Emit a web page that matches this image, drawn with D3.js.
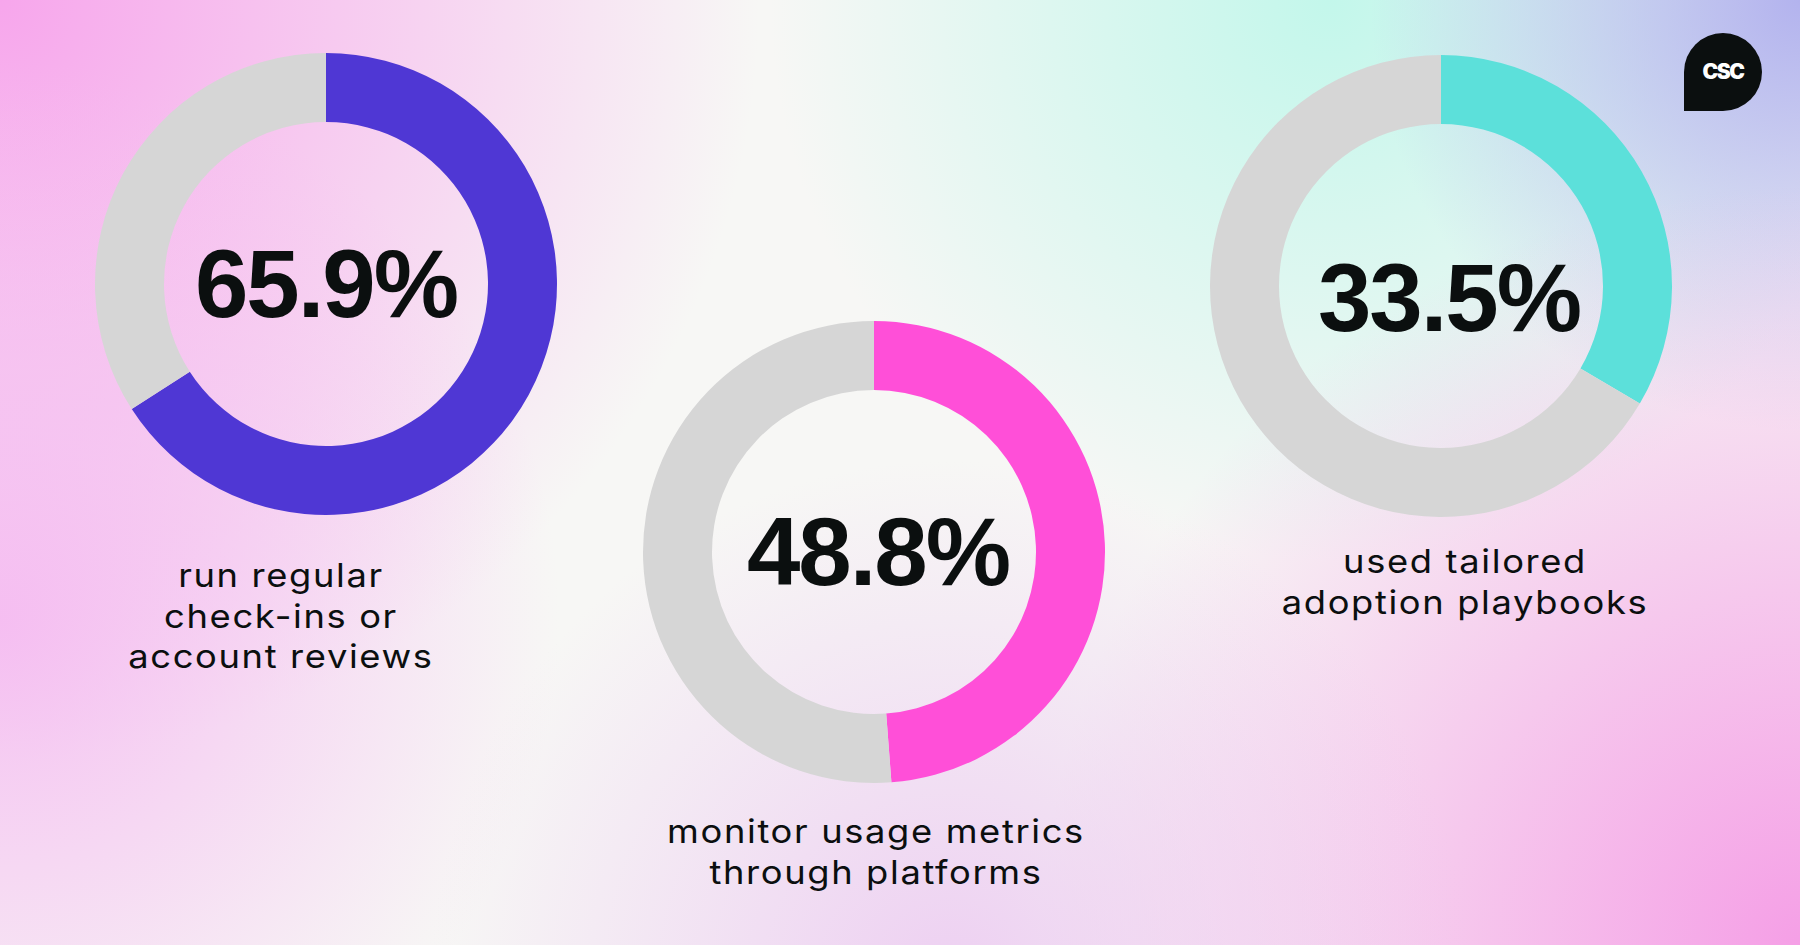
<!DOCTYPE html>
<html>
<head>
<meta charset="utf-8">
<script src="https://cdn.jsdelivr.net/npm/d3@7"></script>
<style>
  html, body { margin: 0; padding: 0; background: #f6f6f4; }
  svg { display: block; }
  .pct { font-family: "Liberation Sans", Arial, sans-serif; font-weight: 700; fill: #0b0f0f; }
  .lbl { font-family: Inter, "Open Sans", sans-serif; font-weight: 400; fill: #0b0f0f; }
</style>
</head>
<body>
<div id="chart"></div>
<script>
'use strict';

// values
var categories = [
  ['run regular', 'check-ins or', 'account reviews'],
  ['monitor usage metrics', 'through platforms'],
  ['used tailored', 'adoption playbooks']
];
var values = [65.9, 48.8, 33.5];
var palette = ['#4f37d4', '#ff4fd8', '#5ce0da'];
var restColor = '#d6d6d6';

// where each donut goes
var layout = [
  {cx: 326, cy: 284, numDx: 0, numDy: 0, lx: 281, ly: 587},
  {cx: 874, cy: 552, numDx: 4, numDy: 0, lx: 876, ly: 843},
  {cx: 1441, cy: 286, numDx: 8, numDy: 12, lx: 1465, ly: 573}
];

var width = 1800, height = 945;
var outerR = 231, innerR = 162;
var lineGap = 40.5;

var svg = d3.select('#chart')
  .append('svg')
  .attr('width', width)
  .attr('height', height);

// background: a few soft colour blobs
var defs = svg.append('defs');
var blobs = [
  {id: 'b1', cx: 0, cy: 0, r: 760, c: '#f7a6ec', o: 1},
  {id: 'b2', cx: 0, cy: 620, r: 560, c: '#f5b9f1', o: 0.9},
  {id: 'b3', cx: 1330, cy: 0, r: 560, c: '#c3f7eb', o: 1},
  {id: 'b4', cx: 1800, cy: 0, r: 430, c: '#b3b3ee', o: 1},
  {id: 'b5', cx: 1800, cy: 945, r: 760, c: '#f59fe6', o: 1},
  {id: 'b6', cx: 950, cy: 980, r: 520, c: '#ebc6f1', o: 0.8}
];
blobs.forEach(function (b) {
  var g = defs.append('radialGradient')
    .attr('id', b.id)
    .attr('gradientUnits', 'userSpaceOnUse')
    .attr('cx', b.cx).attr('cy', b.cy).attr('r', b.r);
  g.append('stop').attr('offset', 0).attr('stop-color', b.c).attr('stop-opacity', b.o);
  g.append('stop').attr('offset', 1).attr('stop-color', b.c).attr('stop-opacity', 0);
});
svg.append('rect').attr('width', width).attr('height', height).attr('fill', '#f7f7f5');
blobs.forEach(function (b) {
  svg.append('rect').attr('width', width).attr('height', height).attr('fill', 'url(#' + b.id + ')');
});

var pie = d3.pie().sort(null).value(function (d) { return d; });
var arc = d3.arc().innerRadius(innerR).outerRadius(outerR);

values.forEach(function (v, i) {
  var pos = layout[i];
  var g = svg.append('g')
    .attr('transform', 'translate(' + pos.cx + ',' + pos.cy + ')');

  g.selectAll('path')
    .data(pie([v, 100 - v]))
    .enter()
    .append('path')
    .attr('d', arc)
    .attr('fill', function (d, j) { return j == 0 ? palette[i] : restColor; });

  g.append('text')
    .attr('class', 'pct')
    .attr('x', pos.numDx)
    .attr('y', pos.numDy + 33)
    .attr('text-anchor', 'middle')
    .attr('font-size', 96)
    .attr('letter-spacing', -2)
    .text(d3.format('.1f')(v) + '%');

  // one text per line, stretched a bit to get the wide look of the original face
  categories[i].forEach(function (line, k) {
    svg.append('text')
      .attr('class', 'lbl')
      .attr('text-anchor', 'middle')
      .attr('font-size', 33)
      .attr('letter-spacing', 1.5)
      .attr('transform', 'translate(' + pos.lx + ',' + (pos.ly + k * lineGap) + ') scale(1.1,1)')
      .text(line);
  });
});

// logo in the corner
var logo = svg.append('g').attr('transform', 'translate(1684,33)');
logo.append('path')
  .attr('d', 'M0,39 A39,39 0 0 1 39,0 A39,39 0 0 1 78,39 A39,39 0 0 1 39,78 L0,78 Z')
  .attr('fill', '#0b0f0f');
logo.append('text')
  .attr('x', 39)
  .attr('y', 46)
  .attr('text-anchor', 'middle')
  .attr('font-family', 'Inter, sans-serif')
  .attr('font-weight', 900)
  .attr('font-size', 21)
  .attr('letter-spacing', -1.5)
  .attr('fill', '#ffffff')
  .text('CSC');
</script>
</body>
</html>
